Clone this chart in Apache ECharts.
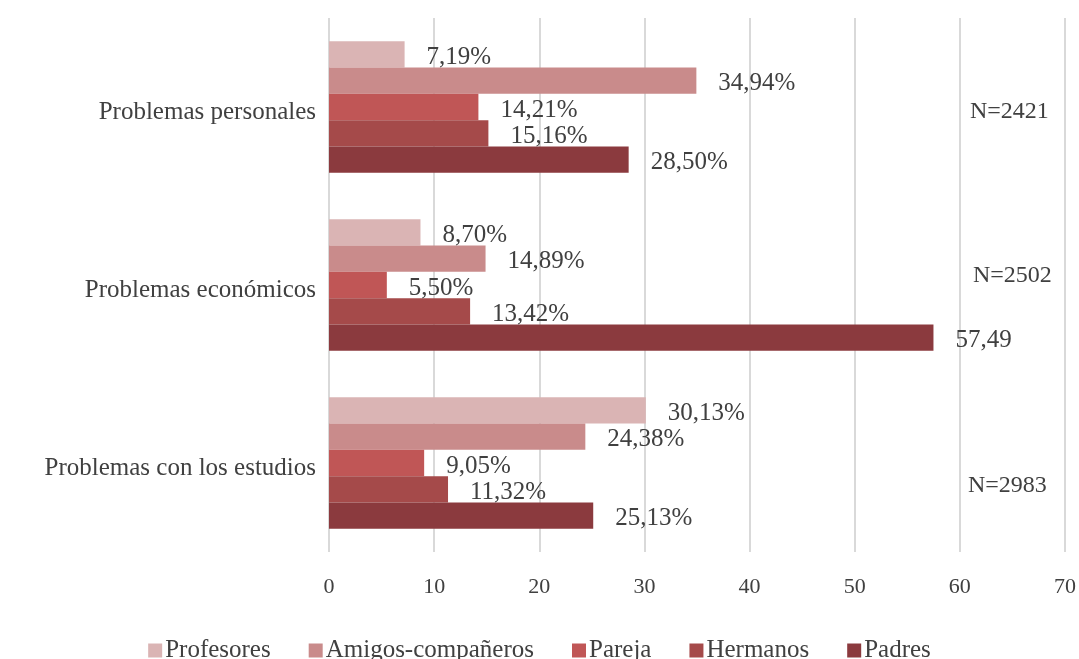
<!DOCTYPE html>
<html><head><meta charset="utf-8">
<script src="https://cdn.jsdelivr.net/npm/echarts@6/dist/echarts.min.js"></script>
<style>html,body{margin:0;padding:0;background:#fff}#c{width:1079px;height:659px}</style>
</head><body><div id="c"></div>
<script>
const categories = ['Problemas personales', 'Problemas económicos', 'Problemas con los estudios'];
const seriesNames = ['Profesores', 'Amigos-compañeros', 'Pareja', 'Hermanos', 'Padres'];
const profesores = [7.19, 8.70, 30.13];
const amigos = [34.94, 14.89, 24.38];
const pareja = [14.21, 5.50, 9.05];
const hermanos = [15.16, 13.42, 11.32];
const padres = [28.50, 57.49, 25.13];
const labelTexts = [
  ['7,19%', '8,70%', '30,13%'],
  ['34,94%', '14,89%', '24,38%'],
  ['14,21%', '5,50%', '9,05%'],
  ['15,16%', '13,42%', '11,32%'],
  ['28,50%', '57,49', '25,13%']
];
const nLabels = ['N=2421', 'N=2502', 'N=2983'];
const xTicks = [0, 10, 20, 30, 40, 50, 60, 70];
const colors = ['#DAB4B4', '#C98B8B', '#C05656', '#A54A4A', '#8B3A3E'];
const values = [profesores, amigos, pareja, hermanos, padres];
const FONT = 'Liberation Serif';

const chart = echarts.init(document.getElementById('c'));
chart.setOption({
  animation: false,
  textStyle: { fontFamily: FONT },
  grid: { left: 329, right: 14, top: 18, bottom: 107, containLabel: false },
  legend: {
    data: seriesNames, bottom: -9, left: 'center', itemWidth: 14, itemHeight: 14, itemGap: 38,
    icon: 'rect',
    textStyle: { fontFamily: FONT, fontSize: 25, color: '#404040', padding: [0, 0, 0, -2] }
  },
  xAxis: {
    type: 'value', min: xTicks[0], max: xTicks[xTicks.length - 1], interval: 10,
    axisLine: { show: false }, axisTick: { show: false },
    splitLine: { lineStyle: { color: '#d9d9d9', width: 2 } },
    axisLabel: { fontFamily: FONT, fontSize: 22, color: '#404040', margin: 24 }
  },
  yAxis: {
    type: 'category', data: categories, inverse: true,
    axisLine: { show: false }, axisTick: { show: false },
    axisLabel: {
      margin: 13,
      formatter: v => '{a|' + v + '}',
      rich: { a: { fontFamily: FONT, fontSize: 25, color: '#404040', padding: [10, 0, 0, 0] } }
    }
  },
  series: values.map((v, i) => ({
    name: seriesNames[i], type: 'bar', data: v, barGap: '0%', barCategoryGap: '26%',
    itemStyle: { color: colors[i] },
    label: {
      show: true, position: 'right', distance: 22, offset: [0, 3],
      fontFamily: FONT, fontSize: 25, color: '#404040',
      formatter: p => labelTexts[i][p.dataIndex]
    }
  })),
  graphic: [
    { type: 'text', left: 970, top: 100, style: { text: nLabels[0], font: '24px "Liberation Serif"', fill: '#404040' } },
    { type: 'text', left: 973, top: 264, style: { text: nLabels[1], font: '24px "Liberation Serif"', fill: '#404040' } },
    { type: 'text', left: 968, top: 474, style: { text: nLabels[2], font: '24px "Liberation Serif"', fill: '#404040' } }
  ]
});
</script></body></html>
